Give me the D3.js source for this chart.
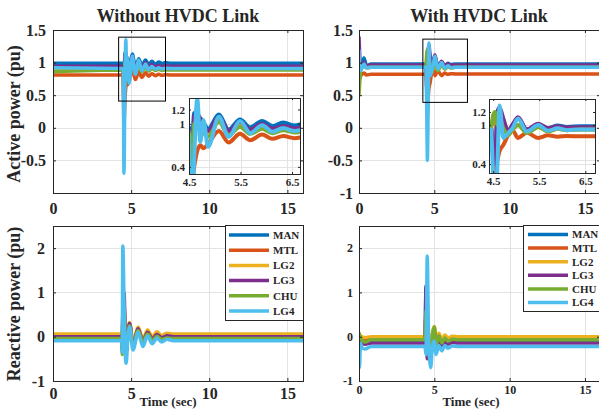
<!DOCTYPE html>
<html>
<head>
<meta charset="utf-8">
<script src="https://cdn.jsdelivr.net/npm/d3@7"></script>
<style>
  body { margin: 0; background: #fff; }
  text { font-family: "Liberation Serif", "Times New Roman", serif; font-weight: bold; fill: #262626; }
</style>
</head>
<body>
<svg id="chart" width="599" height="411"></svg>
<script>
// ---- Generators and tick sets ----
const seriesNames = ["MAN", "MTL", "LG2", "LG3", "CHU", "LG4"];

const timeTicks = [0, 5, 10, 15];
const activeTicksNoLink = [-0.5, 0, 0.5, 1, 1.5];
const activeTicksLink = [-1, -0.5, 0, 0.5, 1, 1.5];
const reactiveTicks = [-1, 0, 1, 2];
const zoomTimeTicks = [4.5, 5.5, 6.5];
const zoomPowerTicks = [0.4, 1, 1.2];

// ---- Active power, without HVDC link (pu) ----
const tPNoLink = [0, 4.45, 4.50, 4.54, 4.60, 4.66, 4.72, 4.78, 4.87, 5.08, 5.27, 5.49, 5.69, 5.92, 6.12, 6.33, 6.55, 6.76, 6.98, 7.2, 7.5, 16];
const pNoLinkMAN = [0.99, 0.99, 0.95, 0.30, 1.15, 1.12, 1.08, 1.02, 0.93, 1.13, 0.92, 1.06, 0.95, 1.04, 0.97, 1.02, 0.975, 1.01, 0.985, 1.0, 0.99, 0.99];
const pNoLinkMTL = [0.81, 0.81, 0.80, 0.10, 0.40, 0.62, 0.70, 0.66, 0.72, 0.90, 0.74, 0.86, 0.77, 0.85, 0.79, 0.83, 0.80, 0.82, 0.805, 0.815, 0.81, 0.81];
const pNoLinkLG2 = [0.90, 0.90, 0.88, 0.30, 0.95, 1.05, 0.92, 0.88, 0.85, 1.05, 0.86, 0.98, 0.88, 0.95, 0.89, 0.93, 0.90, 0.915, 0.90, 0.905, 0.90, 0.90];
const pNoLinkLG3 = [0.945, 0.945, 0.90, -0.12, 1.10, 1.15, 1.05, 0.98, 0.90, 1.10, 0.90, 1.03, 0.92, 1.00, 0.93, 0.97, 0.935, 0.955, 0.94, 0.95, 0.945, 0.945];
const pNoLinkCHU = [0.86, 0.885, 0.88, 0.40, 1.00, 1.02, 0.95, 0.88, 0.82, 1.03, 0.84, 0.96, 0.86, 0.93, 0.87, 0.91, 0.88, 0.895, 0.88, 0.89, 0.885, 0.885];
const pNoLinkLG4 = [0.92, 0.91, 0.90, -0.70, 0.50, 1.35, 0.75, 1.05, 0.68, 1.10, 0.82, 1.04, 0.87, 0.98, 0.89, 0.94, 0.90, 0.92, 0.905, 0.915, 0.91, 0.91];

// ---- Active power, with HVDC link (pu) ----
const tPLink = [0, 0.05, 0.12, 0.2, 0.33, 0.5, 0.8, 4.40, 4.45, 4.50, 4.54, 4.59, 4.64, 4.72, 4.83, 4.92, 5.04, 5.23, 5.48, 5.69, 5.9, 6.1, 6.4, 16];
const pLinkMAN = [1.0, 0.95, 0.93, 0.98, 1.07, 0.95, 0.98, 0.98, 0.98, 0.5, 0.2, 1.15, 1.2, 1.05, 0.92, 1.0, 1.1, 0.93, 1.01, 0.95, 0.99, 0.97, 0.98, 0.98];
const pLinkMTL = [0.80, 0.75, 0.80, 0.82, 0.84, 0.81, 0.82, 0.82, 0.82, 0.6, 0.3, 0.45, 0.6, 0.69, 0.85, 0.92, 0.80, 0.88, 0.80, 0.84, 0.82, 0.83, 0.825, 0.825];
const pLinkLG2 = [0.90, 0.85, 0.90, 0.94, 0.96, 0.92, 0.93, 0.93, 0.95, 1.1, 1.0, 1.0, 1.1, 0.95, 0.85, 0.93, 1.0, 0.88, 0.97, 0.90, 0.94, 0.92, 0.93, 0.93];
const pLinkLG3 = [1.40, 1.10, 0.92, 0.95, 1.00, 0.95, 0.965, 0.965, 0.965, 0.6, 0.4, 1.2, 1.27, 1.1, 0.9, 1.0, 1.12, 0.93, 1.02, 0.95, 0.98, 0.96, 0.965, 0.965];
const pLinkCHU = [0.50, 0.70, 0.88, 0.92, 0.95, 0.92, 0.93, 0.93, 0.95, 1.15, 1.2, 1.0, 1.1, 0.95, 0.85, 0.93, 1.0, 0.88, 0.97, 0.90, 0.94, 0.92, 0.93, 0.93];
const pLinkLG4 = [1.20, 0.95, 0.88, 0.92, 0.98, 0.92, 0.93, 0.93, 0.93, 0.2, -0.5, 0.3, 1.3, 0.8, 0.88, 0.95, 1.1, 0.9, 1.0, 0.91, 0.95, 0.92, 0.93, 0.93];

// ---- Reactive power, without HVDC link (pu) ----
const tQNoLink = [0, 4.40, 4.43, 4.47, 4.55, 4.62, 4.68, 4.78, 4.90, 5.12, 5.45, 5.75, 6.05, 6.35, 6.65, 6.95, 7.3, 7.7, 16];
const qNoLinkMAN = [-0.05, -0.05, -0.3, 0.5, 0.7, -0.1, -0.35, 0.0, 0.28, -0.2, 0.12, -0.12, 0.04, -0.09, 0.0, -0.07, -0.04, -0.05, -0.05];
const qNoLinkMTL = [-0.02, -0.02, -0.25, 0.4, 0.6, -0.1, -0.3, 0.05, 0.3, -0.15, 0.18, -0.08, 0.1, -0.04, 0.05, -0.03, 0.0, -0.02, -0.02];
const qNoLinkLG2 = [0.06, 0.06, -0.2, 0.5, 0.7, -0.1, -0.3, 0.1, 0.32, -0.12, 0.22, -0.05, 0.15, 0.0, 0.11, 0.03, 0.08, 0.06, 0.06];
const qNoLinkLG3 = [0.0, 0.0, -0.3, 0.6, 1.0, 0.0, -0.35, 0.0, 0.3, -0.2, 0.18, -0.1, 0.1, -0.05, 0.05, -0.02, 0.02, 0.0, 0.0];
const qNoLinkCHU = [-0.04, -0.04, -0.4, 0.4, 0.6, -0.2, -0.4, -0.05, 0.25, -0.22, 0.14, -0.12, 0.06, -0.08, 0.01, -0.06, -0.03, -0.04, -0.04];
const qNoLinkLG4 = [-0.09, -0.09, -0.35, 2.05, 0.7, -0.35, -0.6, -0.1, 0.22, -0.3, 0.1, -0.22, 0.02, -0.16, -0.03, -0.12, -0.06, -0.09, -0.09];

// ---- Reactive power, with HVDC link (pu) ----
const tQLink = [0, 0.03, 0.1, 0.2, 0.4, 0.8, 4.38, 4.45, 4.53, 4.62, 4.76, 4.88, 5.0, 5.12, 5.3, 5.5, 5.7, 5.9, 6.2, 6.6, 16];
const qLinkMAN = [-0.05, -0.1, -0.05, -0.12, -0.15, -0.1, -0.1, 1.1, 0.2, -0.3, -0.4, 0.0, 0.15, -0.25, 0.0, -0.18, -0.05, -0.14, -0.08, -0.1, -0.1];
const qLinkMTL = [0.05, 0.0, -0.02, -0.05, -0.08, -0.04, -0.04, 0.5, 0.3, -0.2, -0.3, 0.05, 0.2, -0.15, 0.05, -0.1, 0.0, -0.07, -0.03, -0.04, -0.04];
const qLinkLG2 = [0.08, 0.05, 0.02, 0.0, -0.02, 0.0, 0.0, 0.5, 0.3, -0.15, -0.25, 0.1, 0.23, -0.1, 0.08, -0.06, 0.04, -0.03, 0.01, 0.0, 0.0];
const qLinkLG3 = [-0.05, -0.12, -0.1, -0.14, -0.17, -0.14, -0.14, 1.15, -0.5, -0.35, -0.45, -0.05, 0.1, -0.3, -0.05, -0.22, -0.1, -0.17, -0.13, -0.14, -0.14];
const qLinkCHU = [0.1, 0.05, -0.02, -0.08, -0.12, -0.07, -0.07, 0.6, 0.2, -0.3, -0.35, 0.05, 0.22, -0.2, 0.02, -0.14, -0.03, -0.1, -0.06, -0.07, -0.07];
const qLinkLG4 = [-0.2, -0.7, -0.15, -0.25, -0.28, -0.22, -0.22, -0.4, 1.82, 0.0, -0.7, -0.2, -0.1, -0.4, -0.2, -0.32, -0.2, -0.26, -0.21, -0.22, -0.22];

// ---- Styling ----
const seriesColors = ["#0072BD", "#D95319", "#EDB120", "#7E2F8E", "#77AC30", "#4DBEEE"];
const axisColor = "#262626";
const gridColor = "#e3e3e3";

const svg = d3.select("#chart");
svg.append("rect").attr("width", 599).attr("height", 411).attr("fill", "#fff");
const defs = svg.append("defs");

function drawPanel(c) {
  const x = d3.scaleLinear().domain(c.xDomain).range([c.left, c.right]);
  const y = d3.scaleLinear().domain(c.yDomain).range([c.bottom, c.top]);
  const w = c.right - c.left, h = c.bottom - c.top;
  const g = svg.append("g");

  // grid
  g.append("g").selectAll("line").data(c.xGrid).join("line")
    .attr("x1", d => Math.round(x(d)) + 0.5).attr("x2", d => Math.round(x(d)) + 0.5)
    .attr("y1", c.top).attr("y2", c.bottom)
    .attr("stroke", gridColor).attr("stroke-width", 1);
  g.append("g").selectAll("line").data(c.yGrid).join("line")
    .attr("y1", d => Math.round(y(d)) + 0.5).attr("y2", d => Math.round(y(d)) + 0.5)
    .attr("x1", c.left).attr("x2", c.right)
    .attr("stroke", gridColor).attr("stroke-width", 1);

  // traces
  const clipId = "clip-" + c.id;
  defs.append("clipPath").attr("id", clipId).append("rect")
    .attr("x", c.left).attr("y", c.top).attr("width", w).attr("height", h);
  const traces = g.append("g").attr("clip-path", `url(#${clipId})`);
  const line = d3.line().x(d => x(d[0])).y(d => y(d[1])).curve(d3.curveMonotoneX);
  c.series.forEach((vals, i) => {
    traces.append("path")
      .datum(c.time.map((t, j) => [t, vals[j]]))
      .attr("d", line)
      .attr("fill", "none")
      .attr("stroke", seriesColors[i])
      .attr("stroke-width", c.lineWidth)
      .attr("stroke-linejoin", "round");
  });

  // axes with inward ticks on all four sides
  const fmt = d => String(d);
  const tk = c.tickLen;
  function place(axis, tx, ty, showLabels) {
    const a = g.append("g").attr("transform", `translate(${tx},${ty})`)
      .call(axis);
    a.attr("font-family", null).attr("font-size", c.fontSize);
    a.select(".domain").remove();
    a.selectAll(".tick line").attr("stroke", axisColor);
    if (!showLabels) a.selectAll(".tick text").remove();
    return a;
  }
  place(d3.axisBottom(x).tickValues(c.xTicks).tickSize(-tk).tickPadding(c.xPad).tickFormat(fmt), 0, c.bottom, true);
  place(d3.axisTop(x).tickValues(c.xTicks).tickSize(-tk), 0, c.top, false);
  place(d3.axisLeft(y).tickValues(c.yTicks).tickSize(-tk).tickPadding(c.yPad).tickFormat(fmt), c.left, 0, true);
  place(d3.axisRight(y).tickValues(c.yTicks).tickSize(-tk), c.right, 0, false);

  // box
  g.append("rect")
    .attr("x", c.left + 0.5).attr("y", c.top + 0.5)
    .attr("width", w).attr("height", h)
    .attr("fill", "none").attr("stroke", axisColor).attr("stroke-width", 1);
  return { x, y, g };
}

function drawZoomBox(p, x0, x1, y0, y1) {
  p.g.append("rect")
    .attr("x", p.x(x0)).attr("y", p.y(y1))
    .attr("width", p.x(x1) - p.x(x0)).attr("height", p.y(y0) - p.y(y1))
    .attr("fill", "none").attr("stroke", "#000").attr("stroke-width", 1);
}

function drawLegend(l) {
  const g = svg.append("g");
  g.append("rect").attr("x", l.left + 0.5).attr("y", l.top + 0.5)
    .attr("width", l.width).attr("height", l.height)
    .attr("fill", "#fff").attr("stroke", axisColor).attr("stroke-width", 1);
  seriesNames.forEach((name, i) => {
    const yy = l.first + i * l.gap;
    g.append("line").attr("x1", l.lineX0).attr("x2", l.lineX1)
      .attr("y1", yy).attr("y2", yy)
      .attr("stroke", seriesColors[i]).attr("stroke-width", 3.5);
    g.append("text").attr("x", l.textX).attr("y", yy)
      .attr("dy", "0.35em").attr("font-size", l.fontSize).text(name);
  });
}

// ---- Top row: active power ----
const pA = drawPanel({
  id: "pa", left: 53, right: 303, top: 30, bottom: 193,
  xDomain: [0, 16], yDomain: [-1, 1.5],
  xTicks: timeTicks, yTicks: activeTicksNoLink,
  xGrid: [5, 10, 15], yGrid: [-0.5, 0, 0.5, 1],
  time: tPNoLink,
  series: [pNoLinkMAN, pNoLinkMTL, pNoLinkLG2, pNoLinkLG3, pNoLinkCHU, pNoLinkLG4],
  lineWidth: 3.5, tickLen: 3, fontSize: 16, xPad: 10, yPad: 7
});
drawZoomBox(pA, 4.2, 7.2, 0.41, 1.39);
drawPanel({
  id: "pa-zoom", left: 189, right: 300, top: 98, bottom: 174,
  xDomain: [4.5, 6.655], yDomain: [0.3, 1.36],
  xTicks: zoomTimeTicks, yTicks: zoomPowerTicks,
  xGrid: [5.5, 6.5], yGrid: [0.4, 1],
  time: tPNoLink,
  series: [pNoLinkMAN, pNoLinkMTL, pNoLinkLG2, pNoLinkLG3, pNoLinkCHU, pNoLinkLG4],
  lineWidth: 4, tickLen: 2, fontSize: 11, xPad: 4, yPad: 4
});

const pB = drawPanel({
  id: "pb", left: 359, right: 600, top: 30, bottom: 193,
  xDomain: [0, 16], yDomain: [-1, 1.5],
  xTicks: timeTicks, yTicks: activeTicksLink,
  xGrid: [5, 10, 15], yGrid: [-0.5, 0, 0.5, 1],
  time: tPLink,
  series: [pLinkMAN, pLinkMTL, pLinkLG2, pLinkLG3, pLinkCHU, pLinkLG4],
  lineWidth: 3.5, tickLen: 3, fontSize: 16, xPad: 10, yPad: 6
});
drawZoomBox(pB, 4.24, 7.2, 0.39, 1.36);
drawPanel({
  id: "pb-zoom", left: 489, right: 595, top: 99, bottom: 173,
  xDomain: [4.41, 6.71], yDomain: [0.26, 1.40],
  xTicks: zoomTimeTicks, yTicks: zoomPowerTicks,
  xGrid: [5.5, 6.5], yGrid: [0.4, 1],
  time: tPLink,
  series: [pLinkMAN, pLinkMTL, pLinkLG2, pLinkLG3, pLinkCHU, pLinkLG4],
  lineWidth: 4, tickLen: 2, fontSize: 11, xPad: 4, yPad: 3
});

// ---- Bottom row: reactive power ----
drawPanel({
  id: "qa", left: 53, right: 303, top: 226, bottom: 381,
  xDomain: [0, 16], yDomain: [-1, 2.5],
  xTicks: timeTicks, yTicks: reactiveTicks,
  xGrid: [5, 10, 15], yGrid: [0, 1, 2],
  time: tQNoLink,
  series: [qNoLinkMAN, qNoLinkMTL, qNoLinkLG2, qNoLinkLG3, qNoLinkCHU, qNoLinkLG4],
  lineWidth: 3.5, tickLen: 3, fontSize: 16, xPad: 7, yPad: 8
});
drawPanel({
  id: "qb", left: 359, right: 600, top: 226, bottom: 381,
  xDomain: [0, 16], yDomain: [-1, 2.5],
  xTicks: timeTicks, yTicks: reactiveTicks,
  xGrid: [5, 10, 15], yGrid: [0, 1, 2],
  time: tQLink,
  series: [qLinkMAN, qLinkMTL, qLinkLG2, qLinkLG3, qLinkCHU, qLinkLG4],
  lineWidth: 3.5, tickLen: 3, fontSize: 12, xPad: 4, yPad: 6
});

drawLegend({ left: 225, top: 225, width: 78, height: 95, first: 235, gap: 15.2,
  lineX0: 229, lineX1: 269, textX: 273, fontSize: 11 });
drawLegend({ left: 523, top: 225, width: 77, height: 86, first: 234.5, gap: 13.6,
  lineX0: 528, lineX1: 568, textX: 572, fontSize: 11 });

// ---- Titles and axis labels ----
svg.append("text").attr("x", 178).attr("y", 22).attr("text-anchor", "middle")
  .attr("font-size", 18).text("Without HVDC Link");
svg.append("text").attr("x", 479).attr("y", 22).attr("text-anchor", "middle")
  .attr("font-size", 18).text("With HVDC Link");
svg.append("text").attr("transform", "translate(20,114) rotate(-90)")
  .attr("text-anchor", "middle").attr("font-size", 18).text("Active power (pu)");
svg.append("text").attr("transform", "translate(20,304) rotate(-90)")
  .attr("text-anchor", "middle").attr("font-size", 18).text("Reactive power (pu)");
svg.append("text").attr("x", 168).attr("y", 401).attr("dy", "0.35em")
  .attr("text-anchor", "middle").attr("font-size", 13).text("Time (sec)");
svg.append("text").attr("x", 471).attr("y", 401).attr("dy", "0.35em")
  .attr("text-anchor", "middle").attr("font-size", 13).text("Time (sec)");
</script>
</body>
</html>
